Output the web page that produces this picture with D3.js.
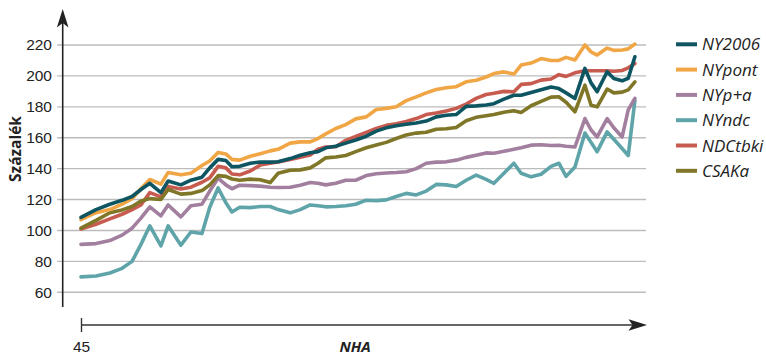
<!DOCTYPE html>
<html><head><meta charset="utf-8">
<script src="https://cdn.jsdelivr.net/npm/d3@7"></script>
<style>
body{margin:0;background:#fff;}
svg{display:block;}
</style></head><body>
<svg id="chart" width="766" height="355"></svg>
<script>
// time index (shared x positions of the observations)
const xValues = [0,2.7,5.2,7.4,9.2,10.8,12.4,14.4,15.7,18.0,19.8,21.8,23.2,24.7,26.1,27.2,28.6,30.5,32.3,34.1,35.5,37.7,39.5,41.3,42.7,44.1,45.9,47.7,49.5,51.4,53.2,55.0,56.8,58.6,60.4,62.2,64.0,65.8,67.6,69.4,71.2,73.0,74.4,76.2,78.0,79.3,81.1,82.9,84.7,86.1,87.4,89.0,90.8,91.9,93.0,94.8,96.0,97.5,98.6,99.8];
const xTickValues = [0];
const xTickLabels = ["45"];
const yTicks = [60,80,100,120,140,160,180,200,220];
const seriesNames = ["NY2006","NYpont","NYp+a","NYndc","NDCtbki","CSAKa"];

const NY2006 = [108.5,113.5,117,119.5,122,126.5,130.5,124.5,132,129.5,132.5,134.5,140.5,146,145.3,141.2,141.5,143.5,144.3,144.2,144.5,146.5,148.7,150.3,151,153.5,154.5,156.5,158.5,161,164.3,166.4,167.8,168.7,169.5,170.8,173.5,174.5,175,180.3,180.6,181.2,182,185,187.5,187.5,189.3,191,192.8,191.8,189,185.4,204.9,195.5,189.8,202.7,198.3,196.8,198.5,212.4];
const NYpont = [107,111.5,113.5,117,120.5,127,133,130,137.5,136,137,142,145,150.5,149.5,146,145.5,148,149.7,151.5,152.5,156.5,157.3,157.3,159.5,162.5,166,168.5,172.2,173.5,178.3,179,180,184,186.4,189,191.2,192.3,193,196.2,197.2,199.3,201.5,202.6,201.2,207,208.3,211.2,210,210,212,210.3,220,215.5,213.5,218,216.5,216.8,217.5,220.6];
const NYpa = [91,91.5,93.5,97,101.5,108,115.3,109.5,116.5,108.8,116,117,125.5,133.8,129.5,127,129.3,129,128.7,128,127.8,128,129.3,131,130.5,129.5,130.5,132.5,132.5,135.5,136.7,137.2,137.5,138,140,143.5,144.2,144.4,145.5,147.3,148.7,150.2,150,151.2,152.5,153.5,155.2,155.5,155,155.1,154.5,154,172.4,165,160.5,172.4,166.5,160.5,178,185.5];
const NYndc = [70,70.5,72.5,75.5,80,91,103,90,103,90.5,99,98,115,127.5,118,112,115,114.8,115.5,115.5,113.5,111.4,113.5,116.5,116,115.3,115.5,116,117,119.6,119.3,119.8,122,124,123,125.5,129.8,129.5,128.5,132.5,135.8,133,130.5,137,143.5,137,134.7,136.4,141.5,143.5,135,141,163,157,151,163.8,159,153,148.5,184];
const NDCtbki = [101,104,107.5,110.5,113.5,116.5,124.5,121.7,128.5,126.8,128,131.2,134,141.5,140.5,136.5,136,138.5,142.3,143.5,144.3,146,147.4,148.8,152.6,154,154.2,158.3,160.8,163.5,166,168,169,170.5,172.4,175,176,177.3,179,181.8,185.5,188,188.8,190,189.7,194.5,195,197.3,198,200.8,199.7,202,203.3,203.3,203.3,203.3,203,203.5,205.2,208];
const CSAKa = [101.5,106.5,111.5,113.3,115.5,119,120.6,120,126.5,123.5,124,125.8,129.5,135.5,135,133.3,132.5,133.2,132.8,131,137,139,139.2,140.5,143.5,147,147.5,148.5,151,153.5,155.3,157,159.5,161.8,163,163.5,165.5,165.8,166.6,171,173.2,174.2,175,176.5,177.5,176.4,180.7,183.5,186.3,186.5,183,176.8,194,181,180,191.5,189,189.5,191,196.2];

const seriesValues = [NY2006, NYpont, NYpa, NYndc, NDCtbki, CSAKa];
const seriesColors = ["#0e5562","#f0a645","#a27f9e","#5ea4a9","#c85b4f","#7f7627"];
const drawOrder = [3,2,4,5,1,0];

const svg = d3.select("#chart");
const x = d3.scaleLinear().domain([0,100]).range([81,636]);
const y = d3.scaleLinear().domain([60,220]).range([292.3,45]);

const tickFont = "'Liberation Sans Narrow','Liberation Sans',sans-serif";
const legendFont = "'Open Sans',sans-serif";

// grid
svg.append("g").selectAll("line").data(yTicks).join("line")
  .attr("x1",57).attr("x2",646)
  .attr("y1",d=>y(d)).attr("y2",d=>y(d))
  .attr("stroke","#bcbcbc").attr("stroke-width",1.4);

// y axis labels
const yAxis = svg.append("g").attr("transform","translate(63,0)")
  .call(d3.axisLeft(y).tickValues(yTicks).tickSize(0).tickPadding(11));
yAxis.select(".domain").remove();
yAxis.selectAll("text").attr("font-family",tickFont).attr("font-size",15.5).attr("fill","#222");

// y axis line + arrow
svg.append("line").attr("x1",62.7).attr("x2",62.7).attr("y1",307).attr("y2",20)
  .attr("stroke","#222").attr("stroke-width",1.6);
svg.append("path").attr("d","M62.7,9 L68.5,27.5 L62.7,23 L56.9,27.5 Z").attr("fill","#222");

// x axis
svg.append("line").attr("x1",81).attr("x2",636).attr("y1",325).attr("y2",325)
  .attr("stroke","#333").attr("stroke-width",1.6);
svg.append("path").attr("d","M647,325 L628.5,319.2 L632.5,325 L628.5,330.8 Z").attr("fill","#222");
const xAxis = svg.append("g").attr("transform","translate(0,318)")
  .call(d3.axisBottom(x).tickValues(xTickValues).tickSize(14).tickPadding(9)
    .tickFormat((d,i)=>xTickLabels[i]));
xAxis.select(".domain").remove();
xAxis.selectAll("line").attr("stroke","#333").attr("stroke-width",1.4);
xAxis.selectAll("text").attr("font-family",tickFont).attr("font-size",15.5).attr("fill","#222");

// axis titles
svg.append("text").attr("transform","translate(21,149) rotate(-90)")
  .attr("text-anchor","middle").attr("font-family",legendFont).attr("font-weight","bold")
  .attr("font-size",15.5).attr("fill","#222").text("Százalék");
svg.append("text").attr("x",355).attr("y",352).attr("text-anchor","middle")
  .attr("font-family",legendFont).attr("font-weight","bold").attr("font-style","italic")
  .attr("font-size",15).attr("fill","#222").text("NHA");

// lines
const line = d3.line().x((d,i)=>x(xValues[i])).y(d=>y(d));
svg.append("g").selectAll("path").data(drawOrder).join("path")
  .attr("d",k=>line(seriesValues[k]))
  .attr("fill","none").attr("stroke",k=>seriesColors[k])
  .attr("stroke-width",3.6).attr("stroke-linejoin","round").attr("stroke-linecap","round");

// legend
const lg = svg.append("g").selectAll("g").data(seriesNames).join("g")
  .attr("transform",(d,i)=>`translate(676,${44.3+i*25.3})`);
lg.append("line").attr("x1",0).attr("x2",21).attr("y1",0).attr("y2",0)
  .attr("stroke",(d,i)=>seriesColors[i]).attr("stroke-width",4);
lg.append("text").attr("x",26).attr("y",0).attr("dy","0.36em")
  .attr("font-family",legendFont).attr("font-style","italic").attr("font-size",17)
  .attr("fill","#222").text(d=>d);
</script>
</body></html>
